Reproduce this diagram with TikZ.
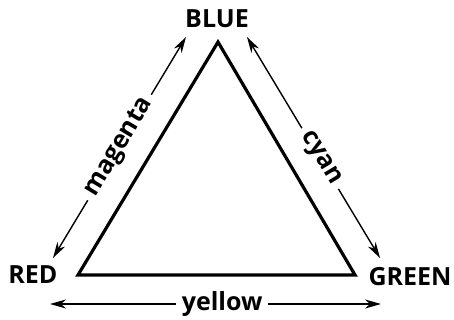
\documentclass[tikz,border=0pt]{standalone}
\usepackage{fontspec}
\setmainfont{Open Sans}
\usepackage{tikz}
\usetikzlibrary{arrows.meta}

\begin{document}
\begin{tikzpicture}[x=1pt,y=-1pt,
    nd/.style={font=\fontsize{25}{28}\selectfont\bfseries,inner sep=0pt},
    lbl/.style={font=\fontsize{25}{28}\selectfont\bfseries,fill=white,inner sep=6pt,sloped,midway},
    arr/.style={{Stealth[length=16pt,width=9pt,inset=5pt]}-{Stealth[length=16pt,width=9pt,inset=5pt]},line width=1.4pt},
    tri/.style={draw,line width=3.2pt,line join=miter}
]
\useasboundingbox (0,0) rectangle (454,320);
% corner labels
\node[nd] (blue) at (217,19) {BLUE};
\node[nd] (red) at (33,275) {RED};
\node[nd] (green) at (410,277) {GREEN};

% triangle
\coordinate (t1) at (218,42);
\coordinate (t2) at (78,275);
\coordinate (t3) at (355,275);
\draw[tri] (t1) -- (t2) -- (t3) -- cycle;

% arrow ends
\coordinate (m1) at (53,258);
\coordinate (m2) at (186,37);
\coordinate (c1) at (247,37);
\coordinate (c2) at (380,258);
\coordinate (y1) at (50,304);
\coordinate (y2) at (381,304);

\draw[arr] (m1) -- node[lbl] (mag) {magenta} (m2);
\draw[arr] (c1) -- node[lbl,pos=0.55] (cya) {cyan} (c2);
\draw[arr] (y1) -- node[lbl,pos=0.52] (yel) {yellow} (y2);
\end{tikzpicture}
\end{document}
